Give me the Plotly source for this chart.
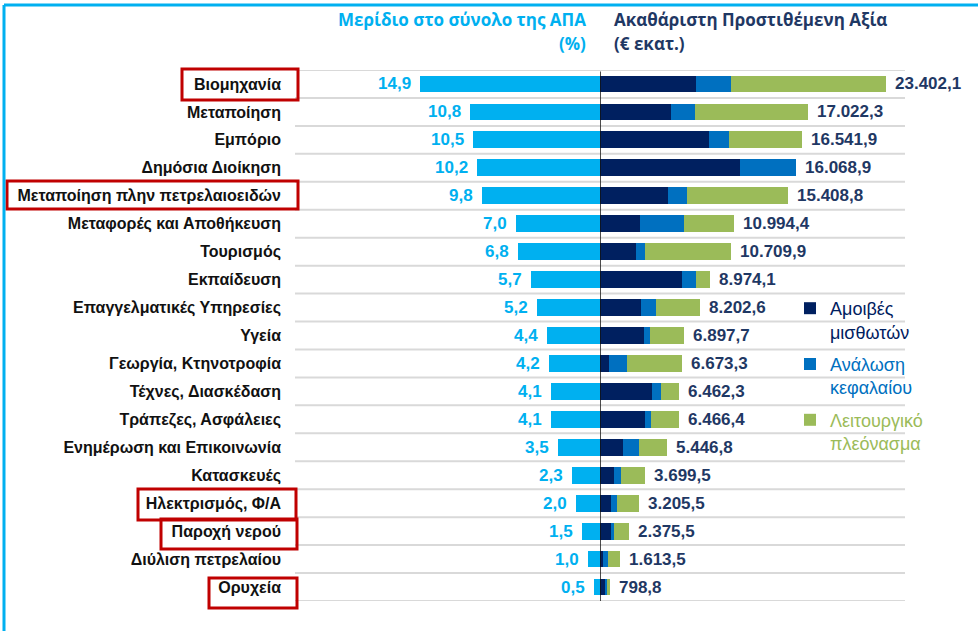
import plotly.graph_objects as go

W, H = 978, 631

categories = ["Βιομηχανία", "Μεταποίηση", "Εμπόριο", "Δημόσια Διοίκηση",
              "Μεταποίηση πλην πετρελαιοειδών", "Μεταφορές και Αποθήκευση",
              "Τουρισμός", "Εκπαίδευση", "Επαγγελματικές Υπηρεσίες", "Υγεία",
              "Γεωργία, Κτηνοτροφία", "Τέχνες, Διασκέδαση", "Τράπεζες, Ασφάλειες",
              "Ενημέρωση και Επικοινωνία", "Κατασκευές", "Ηλεκτρισμός, Φ/Α",
              "Παροχή νερού", "Διύλιση πετρελαίου", "Ορυχεία"]

share_pct = [14.9, 10.8, 10.5, 10.2, 9.8, 7.0, 6.8, 5.7, 5.2, 4.4,
             4.2, 4.1, 4.1, 3.5, 2.3, 2.0, 1.5, 1.0, 0.5]

gva_total = [23402.1, 17022.3, 16541.9, 16068.9, 15408.8, 10994.4, 10709.9,
             8974.1, 8202.6, 6897.7, 6673.3, 6462.3, 6466.4, 5446.8, 3699.5,
             3205.5, 2375.5, 1613.5, 798.8]

compensation = [7856, 5785, 8945, 11481, 5540, 3273, 2946, 6735, 3355, 3576,
                736, 4255, 3658, 1858, 1146, 876, 925, 270, 409]
capital_consumption = [2840, 1965, 1587, 4588, 1580, 3577, 736, 1121, 1203, 540,
                       1449, 737, 540, 1358, 548, 540, 221, 409, 139]
operating_surplus = [12706.1, 9272.3, 6009.9, 0.0, 8288.8, 4144.4, 7027.9,
                     1118.1, 3644.6, 2781.7, 4488.3, 1470.3, 2268.4, 2230.8,
                     2005.5, 1789.5, 1229.5, 934.5, 250.8]

highlighted = ["Βιομηχανία", "Μεταποίηση πλην πετρελαιοειδών", "Ηλεκτρισμός, Φ/Α",
               "Παροχή νερού", "Ορυχεία"]

legend_names = [["Αμοιβές", "μισθωτών"], ["Ανάλωση", "κεφαλαίου"],
                ["Λειτουργικό", "πλεόνασμα"]]

C_CYAN = "#00B0F0"
C_NAVY = "#002060"
C_BLUE = "#0070C0"
C_GREEN = "#9BBB59"
C_TXT = "#1F3864"

FONT = "Liberation Sans, Arial, sans-serif"

def px(x):
    return x / W

def py(y):
    return 1 - y / H

n = len(categories)
idx = list(range(n))

# geometry (pixels)
X0, XMID, X1 = 295, 600, 905
YTOP, YBOT = 70, 601
PCT_PX = 12.05      # px per % point
GVA_PX = 0.01222    # px per million €

def fmt_pct(v):
    return f"{v:.1f}".replace(".", ",")

def fmt_gva(v):
    s = f"{v:,.1f}"
    return s.replace(",", "X").replace(".", ",").replace("X", ".")

fig = go.Figure()

fig.add_trace(go.Bar(
    y=idx, x=share_pct, orientation="h", xaxis="x", yaxis="y",
    marker=dict(color=C_CYAN, line=dict(width=0)), showlegend=False,
    hoverinfo="skip"))

for k, (vals, col, nm) in enumerate([(compensation, C_NAVY, legend_names[0]),
                                     (capital_consumption, C_BLUE, legend_names[1]),
                                     (operating_surplus, C_GREEN, legend_names[2])]):
    name = "<br>".join(f"<span style='color:{col}'>{t}</span>" for t in nm)
    fig.add_trace(go.Bar(
        y=idx, x=vals, orientation="h", xaxis="x2", yaxis="y",
        marker=dict(color=col, line=dict(width=0)), name=name,
        legendgroup=f"g{k}", hoverinfo="skip"))

annotations = []
for i in idx:
    annotations.append(dict(
        x=share_pct[i], y=i, xref="x", yref="y", text=fmt_pct(share_pct[i]),
        xanchor="right", yanchor="middle", xshift=-7, showarrow=False,
        font=dict(family=FONT, size=17, color=C_CYAN, weight="bold")))
    annotations.append(dict(
        x=gva_total[i], y=i, xref="x2", yref="y", text=fmt_gva(gva_total[i]),
        xanchor="left", yanchor="middle", xshift=7, showarrow=False,
        font=dict(family=FONT, size=17, color=C_TXT, weight="bold")))

HFONT = "Open Sans, Liberation Sans, sans-serif"
HSIZE = 17
annotations += [
    dict(x=px(588), y=py(20), xref="paper", yref="paper", xanchor="right",
         yanchor="middle", showarrow=False, align="right",
         text="Μερίδιο στο σύνολο της ΑΠΑ",
         font=dict(family=HFONT, size=HSIZE, color=C_CYAN, weight="bold")),
    dict(x=px(588), y=py(43), xref="paper", yref="paper", xanchor="right",
         yanchor="middle", showarrow=False, text="(%)",
         font=dict(family=HFONT, size=HSIZE, color=C_CYAN, weight="bold")),
    dict(x=px(612), y=py(20), xref="paper", yref="paper", xanchor="left",
         yanchor="middle", showarrow=False,
         text="Ακαθάριστη Προστιθέμενη Αξία",
         font=dict(family=HFONT, size=HSIZE, color=C_TXT, weight="bold")),
    dict(x=px(612), y=py(43), xref="paper", yref="paper", xanchor="left",
         yanchor="middle", showarrow=False, text="(€ εκατ.)",
         font=dict(family=HFONT, size=HSIZE, color=C_TXT, weight="bold")),
]

shapes = []
# row separators
for k in range(n + 1):
    shapes.append(dict(type="line", xref="paper", yref="y",
                       x0=px(X0), x1=px(X1), y0=k - 0.5, y1=k - 0.5,
                       line=dict(color="#D9D9D9", width=2), layer="below"))
# centre line
shapes.append(dict(type="line", xref="x2", yref="y", x0=0, x1=0,
                   y0=-0.45, y1=n - 0.5, line=dict(color="#111111", width=1.5)))
# highlight boxes (left, top, right, bottom in px)
boxes = {"Βιομηχανία": (182, 69, 298, 100),
         "Μεταποίηση πλην πετρελαιοειδών": (7, 181, 298, 209),
         "Ηλεκτρισμός, Φ/Α": (138, 489, 296, 520),
         "Παροχή νερού": (161, 519, 297, 549),
         "Ορυχεία": (209, 578, 297, 608)}
for name in highlighted:
    l, t, r, b = boxes[name]
    shapes.append(dict(type="rect", xref="paper", yref="paper",
                       x0=px(l), x1=px(r), y0=py(b), y1=py(t),
                       line=dict(color="#C00000", width=3)))
# frame lines
shapes.append(dict(type="line", xref="paper", yref="paper", x0=px(4), x1=1,
                   y0=py(5), y1=py(5), line=dict(color=C_CYAN, width=3)))
shapes.append(dict(type="line", xref="paper", yref="paper", x0=px(4), x1=px(4),
                   y0=py(5), y1=0, line=dict(color=C_CYAN, width=3)))

fig.update_layout(
    width=W, height=H, autosize=False,
    margin=dict(l=0, r=0, t=0, b=0),
    paper_bgcolor="white", plot_bgcolor="rgba(0,0,0,0)",
    barmode="stack", bargap=0.4,
    font=dict(family=FONT),
    xaxis=dict(domain=[px(X0), px(XMID)], range=[(XMID - X0) / PCT_PX, 0],
               visible=False, fixedrange=True, anchor="y"),
    xaxis2=dict(domain=[px(XMID), px(X1)], range=[0, (X1 - XMID) / GVA_PX],
                visible=False, fixedrange=True, anchor="y"),
    yaxis=dict(domain=[py(YBOT), py(YTOP)], range=[n - 0.5, -0.5],
               tickvals=idx, ticktext=categories, showgrid=False,
               zeroline=False, showline=False, ticks="", ticklabelstandoff=13,
               tickfont=dict(family=FONT, size=16, color="#111111", weight="bold"),
               fixedrange=True, anchor="x"),
    legend=dict(x=px(790), y=py(290), xanchor="left", yanchor="top",
                traceorder="grouped", valign="top",
                font=dict(family=FONT, size=18), bgcolor="rgba(0,0,0,0)",
                tracegroupgap=6, itemclick=False),
    annotations=annotations, shapes=shapes,
    showlegend=True,
)

fig.write_html("out.html", config={"displayModeBar": False},
               post_script="document.body.style.margin='0';")
